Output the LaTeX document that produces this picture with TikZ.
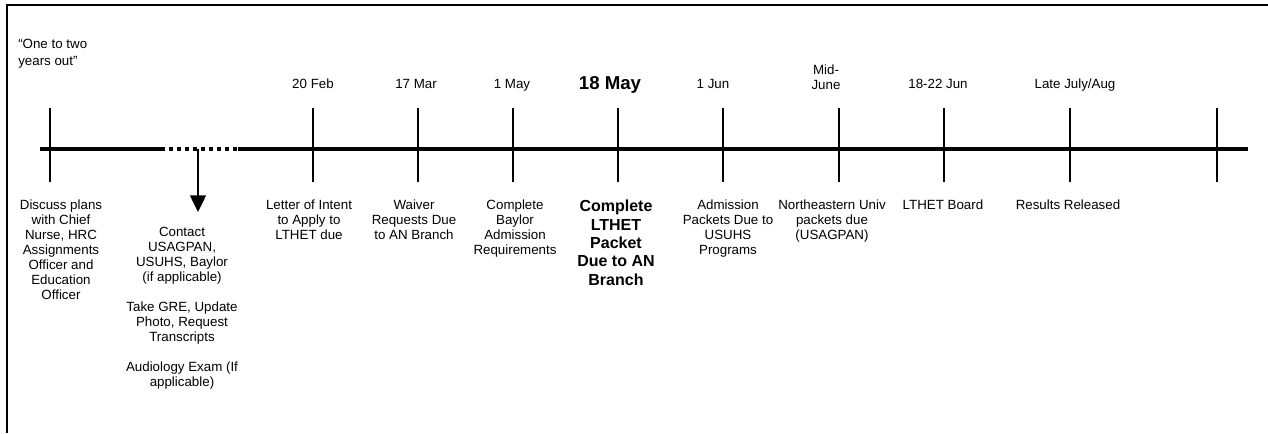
\documentclass[tikz,border=0pt]{standalone}
\usepackage{fontspec}
\setmainfont{Liberation Sans}
\usetikzlibrary{arrows.meta}

\tikzset{
  datelabel/.style={anchor=base, inner sep=0pt, align=center, font=\fontsize{10}{11.25}\selectfont},
  eventlabel/.style={anchor=north, inner sep=0pt, align=center, font=\fontsize{10}{11.25}\selectfont},
  keyevent/.style={eventlabel, font=\bfseries\fontsize{12}{13.75}\selectfont},
  tickline/.style={line width=1.1pt},
}

\begin{document}
\begin{tikzpicture}[x=0.75pt, y=-0.75pt]
        \useasboundingbox (0,0) rectangle (1268,433);
        % Frame
        \draw [line width=1.3pt] (7,433) -- (7,5) -- (1268,5);
        % Timeline itself
        \coordinate (tstart) at (40,149);
        \coordinate (dotstart) at (165,149);
        \coordinate (dotend) at (238,149);
        \coordinate (tend) at (1248,149);
        \draw [line width=3pt] (tstart) -- (dotstart) (dotend) -- (tend);
        \draw [line width=3pt, dash pattern=on 3pt off 3pt, dash phase=3pt] (dotstart) -- (dotend);
        % Ticks
            \foreach \x in {50,313,418,513,618,723,839,944,1070,1217}
        {
        \draw [tickline] (\x,108) -- (\x,182);
        }
        % Arrow down to the preparation steps
        \coordinate (arrowtop) at (198,149);
        \coordinate (arrowtip) at (198,212);
        \draw [-{Triangle[width=12pt,length=12.5pt]}, line width=1pt] (arrowtop) -- (arrowtip);
        % Dates above the line
        \node [anchor=north west, inner sep=0pt, align=left, font=\fontsize{10}{12.5}\selectfont] (early) at (18,39)
            {``One to two\\years out''};
        \node [datelabel] (feb) at (313,88) {20 Feb};
        \node [datelabel] (mar) at (416,88) {17 Mar};
        \node [datelabel] (mayone) at (512,88) {1 May};
        \node [datelabel, font=\bfseries\fontsize{14}{16}\selectfont] (mayeighteen) at (610,89) {18 May};
        \node [datelabel] (junone) at (713,88) {1 Jun};
        \node [eventlabel] (midjune) at (826,65) {Mid-\\June};
        \node [datelabel] (juneighteen) at (938,88) {18-22 Jun};
        \node [datelabel] (late) at (1075,88) {Late July/Aug};
        % Events below the line
        \node [eventlabel] (discuss) at (61,200)
            {Discuss plans\\with Chief\\Nurse, HRC\\Assignments\\Officer and\\Education\\Officer};
        \node [eventlabel] (contact) at (182,227)
            {Contact\\USAGPAN,\\USUHS, Baylor\\(if applicable)\\[11.25pt]
             Take GRE, Update\\Photo, Request\\Transcripts\\[11.25pt]
             Audiology Exam (If\\applicable)};
        \node [eventlabel] (letter) at (309,200) {Letter of Intent\\to Apply to\\LTHET due};
        \node [eventlabel] (waiver) at (414,200) {Waiver\\Requests Due\\to AN Branch};
        \node [eventlabel] (baylor) at (515,200) {Complete\\Baylor\\Admission\\Requirements};
        \node [keyevent] (packet) at (616,200) {Complete\\LTHET\\Packet\\Due to AN\\Branch};
        \node [eventlabel] (admission) at (728,200) {Admission\\Packets Due to\\USUHS\\Programs};
        \node [eventlabel] (northeastern) at (832,200) {Northeastern Univ\\packets due\\(USAGPAN)};
        \node [eventlabel] (board) at (943,200) {LTHET Board};
        \node [eventlabel] (results) at (1068,200) {Results Released};
\end{tikzpicture}
\end{document}
